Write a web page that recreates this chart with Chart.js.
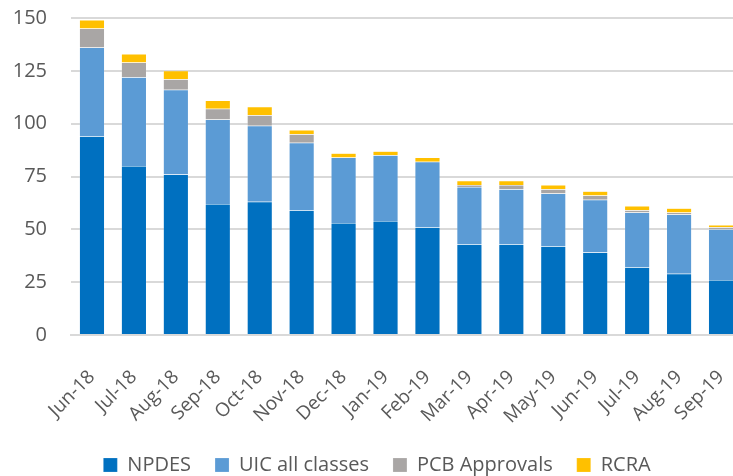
<!DOCTYPE html>
<html>
<head>
<meta charset="utf-8">
<script src="https://cdn.jsdelivr.net/npm/chart.js@4/dist/chart.umd.min.js"></script>
<style>
    html, body { margin: 0; padding: 0; background: #fff; overflow: hidden; }
    #wrap { width: 768px; height: 476px; position: relative; }
</style>
</head>
<body>
<div id="wrap"><canvas id="chart"></canvas></div>
<script>
// Monthly permit backlog by program
const months = ['Jun-18', 'Jul-18', 'Aug-18', 'Sep-18', 'Oct-18', 'Nov-18', 'Dec-18', 'Jan-19',
    'Feb-19', 'Mar-19', 'Apr-19', 'May-19', 'Jun-19', 'Jul-19', 'Aug-19', 'Sep-19'];
const npdes = [94, 80, 76, 62, 63, 59, 53, 54, 51, 43, 43, 42, 39, 32, 29, 26];
const uic = [42, 42, 40, 40, 36, 32, 31, 31, 31, 27, 26, 25, 25, 26, 28, 24];
const pcb = [9, 7, 5, 5, 5, 4, 0, 0, 0, 1, 2, 2, 2, 1, 1, 1];
const rcra = [4, 4, 4, 4, 4, 2, 2, 2, 2, 2, 2, 2, 2, 2, 2, 1];
const yTicks = [0, 25, 50, 75, 100, 125, 150];

const FONT = '"Open Sans", Lato, sans-serif';
const TEXT = '#595959';
const GRID = '#d9d9d9';

const series = [
    { label: 'NPDES', data: npdes, color: '#0070c0' },
    { label: 'UIC all classes', data: uic, color: '#5b9bd5' },
    { label: 'PCB Approvals', data: pcb, color: '#a9a6a5' },
    { label: 'RCRA', data: rcra, color: '#ffc000' }
];

const datasets = series.map(s => ({
    label: s.label,
    data: s.data,
    backgroundColor: s.color,
    borderColor: 'rgba(255,255,255,0.35)',
    borderWidth: 0.5,
    barPercentage: 0.6,
    categoryPercentage: 1
}));

new Chart(document.getElementById('chart').getContext('2d'), {
    type: 'bar',
    data: { labels: months, datasets },
    options: {
        responsive: true,
        maintainAspectRatio: false,
        animation: false,
        layout: { padding: { left: 12, right: 26, top: 18, bottom: -9 } },
        plugins: {
            tooltip: { enabled: false },
            legend: {
                position: 'bottom',
                labels: {
                    color: TEXT,
                    font: { family: FONT, size: 20 },
                    boxWidth: 14,
                    boxHeight: 14,
                    padding: 24
                }
            }
        },
        scales: {
            x: {
                stacked: true,
                grid: { display: false },
                border: { color: GRID, width: 2 },
                ticks: {
                    color: TEXT,
                    font: { family: FONT, size: 19 },
                    minRotation: 45,
                    maxRotation: 45,
                    autoSkip: false,
                    padding: 23
                },
                // fixed axis band; stop the rotated first label from pushing the plot right
                afterFit: axis => {
                    axis.height = 96;
                    axis.paddingLeft = 0;
                    axis.paddingRight = 0;
                }
            },
            y: {
                stacked: true,
                min: 0,
                max: 150,
                afterBuildTicks: axis => { axis.ticks = yTicks.map(v => ({ value: v })); },
                afterFit: axis => {
                    axis.width = 59;
                    axis.paddingTop = 0;
                    axis.paddingBottom = 0;
                },
                grid: { color: GRID, lineWidth: 2, drawTicks: false },
                border: { display: false },
                ticks: {
                    color: TEXT,
                    font: { family: FONT, size: 20 },
                    padding: 24
                }
            }
        }
    }
});
</script>
</body>
</html>
